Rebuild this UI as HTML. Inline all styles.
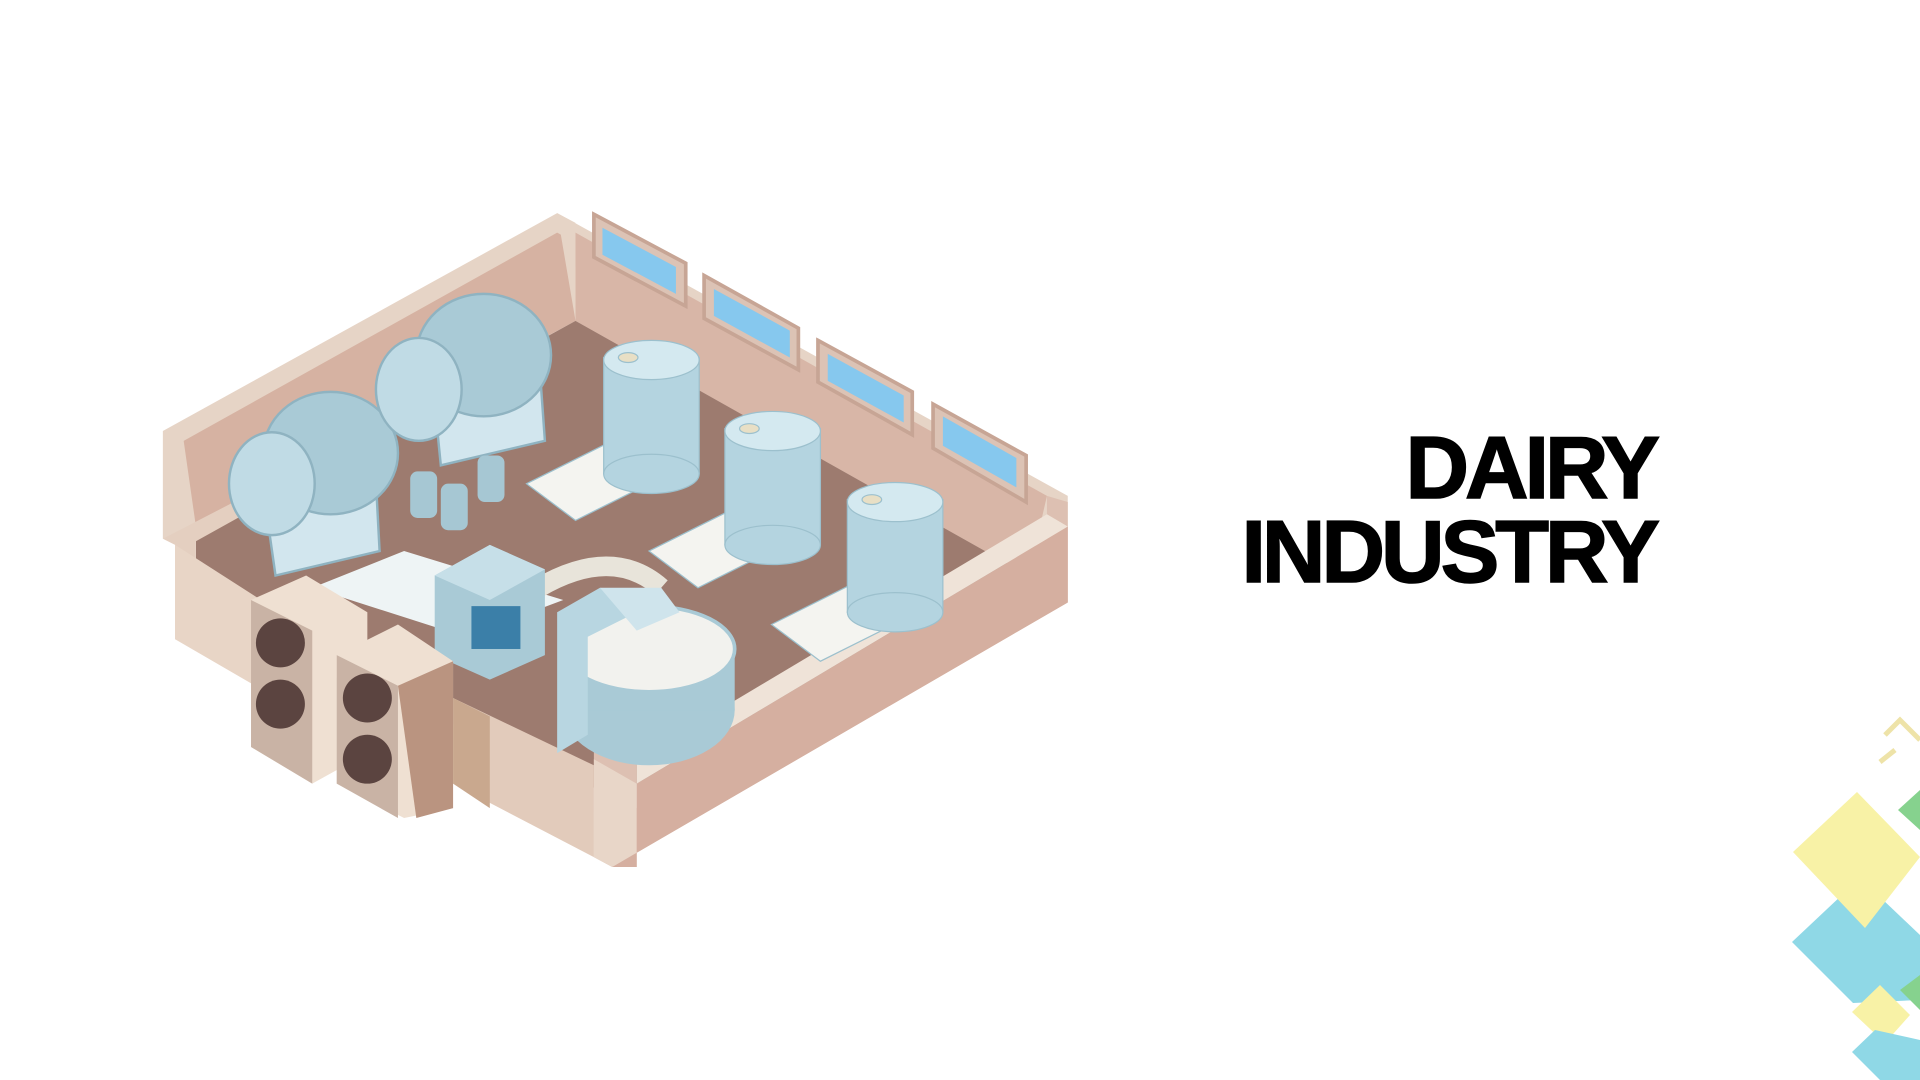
<!DOCTYPE html>
<html><head><meta charset="utf-8"><style>
html,body{margin:0;padding:0;background:#fff;width:1920px;height:1080px;overflow:hidden}
.t{position:absolute;right:264px;font-family:"Liberation Sans",sans-serif;font-weight:bold;font-size:88px;letter-spacing:-4px;color:#000;line-height:1;text-align:right;white-space:nowrap;-webkit-text-stroke:1.5px #000}
svg{position:absolute;left:0;top:0}
</style></head><body>
<svg width="1920" height="1080" viewBox="0 0 1920 1080">
<g transform="scale(1.2245)">
 <polygon points="133,352 455,174 470,182 470,262 160,430 133,440" fill="#e6d4c6"/>
 <polygon points="150,360 455,190 470,198 470,262 160,430" fill="#d6b2a2"/>
 <polygon points="455,174 872,405 872,492 820,470 470,262" fill="#e6d4c6"/>
 <polygon points="470,190 855,405 840,470 470,262" fill="#d8b6a7"/>
 <polygon points="160,432 470,262 840,470 830,485 520,640 500,650 300,560 160,470" fill="#9d7b6f"/>
 <g fill="#dcc3b5" stroke="#c7a595" stroke-width="3">
  <polygon points="485,175 560,215 560,250 485,210"/>
  <polygon points="575,225 652,268 652,302 575,260"/>
  <polygon points="668,278 745,320 745,355 668,312"/>
  <polygon points="762,330 838,372 838,410 762,366"/>
 </g>
 <g fill="#86c8ee">
  <polygon points="492,186 552,218 552,240 492,208"/>
  <polygon points="583,236 645,270 645,292 583,258"/>
  <polygon points="676,289 738,323 738,345 676,311"/>
  <polygon points="770,340 830,374 830,398 770,364"/>
 </g>
 <polygon points="133,440 220,395 232,402 160,442 160,515 143,522 143,445" fill="#e4cfc0"/>
 <polygon points="143,445 143,522 260,590 260,520" fill="#e8d5c6"/>
 <polygon points="485,610 520,622 520,660 830,485 872,492 872,410 855,405 855,470 872,492 500,708 485,700" fill="#ddc0b2"/>
 <polygon points="485,620 520,640 520,708 500,708 485,700" fill="#e8d6c8"/>
 <polygon points="520,640 872,430 872,492 500,708 520,708" fill="#d5afa0"/>
 <polygon points="520,620 855,420 872,430 520,640" fill="#efe3d8"/>
 <polygon points="370,570 485,625 485,700 370,640" fill="#e2cbbb"/>
 <polygon points="370,570 400,585 400,660 370,640" fill="#c9a88e"/>
 <g fill="#a9cad6" stroke="#8fb3c1" stroke-width="2">
  <polygon points="215,400 305,355 310,450 225,470" fill="#d2e6ee"/>
  <polygon points="355,330 440,290 445,360 360,380" fill="#d2e6ee"/>
  <ellipse cx="270" cy="370" rx="55" ry="50"/>
  <ellipse cx="222" cy="395" rx="35" ry="42" fill="#c0dbe5"/>
  <ellipse cx="395" cy="290" rx="55" ry="50"/>
  <ellipse cx="342" cy="318" rx="35" ry="42" fill="#c0dbe5"/>
 </g>
 <g fill="#a6c7d3"><rect x="335" y="385" width="22" height="38" rx="6"/><rect x="360" y="395" width="22" height="38" rx="6"/><rect x="390" y="372" width="22" height="38" rx="6"/></g>
 <g stroke="#9cc0cd" stroke-width="1">
  <polygon points="430,395 500,360 540,390 470,425" fill="#f4f4f0"/>
  <rect x="493" y="292" width="78" height="95" fill="#b4d4e0"/><ellipse cx="532" cy="387" rx="39" ry="16" fill="#b4d4e0"/><ellipse cx="532" cy="294" rx="39" ry="16" fill="#d4e9f0"/><ellipse cx="513" cy="292" rx="8" ry="4" fill="#e8dfc5"/>
  <polygon points="530,450 600,415 640,445 570,480" fill="#f4f4f0"/>
  <rect x="592" y="350" width="78" height="95" fill="#b4d4e0"/><ellipse cx="631" cy="445" rx="39" ry="16" fill="#b4d4e0"/><ellipse cx="631" cy="352" rx="39" ry="16" fill="#d4e9f0"/><ellipse cx="612" cy="350" rx="8" ry="4" fill="#e8dfc5"/>
  <polygon points="630,510 700,475 740,505 670,540" fill="#f4f4f0"/>
  <rect x="692" y="408" width="78" height="92" fill="#b4d4e0"/><ellipse cx="731" cy="500" rx="39" ry="16" fill="#b4d4e0"/><ellipse cx="731" cy="410" rx="39" ry="16" fill="#d4e9f0"/><ellipse cx="712" cy="408" rx="8" ry="4" fill="#e8dfc5"/>
 </g>
 <polygon points="255,480 330,450 460,490 380,520" fill="#eef4f5"/>
 <path d="M440,480 Q500,445 540,480" stroke="#e8e4da" stroke-width="16" fill="none"/>
 <polygon points="355,470 400,445 445,465 445,535 400,555 355,535" fill="#a9cad6"/>
 <polygon points="355,470 400,445 445,465 400,490" fill="#c6dfe8"/>
 <rect x="385" y="495" width="40" height="35" fill="#3b7fa8"/>
 <ellipse cx="530" cy="580" rx="70" ry="45" fill="#a9cad6"/>
 <rect x="460" y="530" width="140" height="50" fill="#a9cad6"/>
 <ellipse cx="530" cy="530" rx="70" ry="35" fill="#f2f2ee" stroke="#a9cad6" stroke-width="3"/>
 <polygon points="455,500 490,480 520,495 520,500 480,520 480,600 455,615" fill="#b8d6e1"/>
 <polygon points="490,480 540,480 555,500 520,515" fill="#cfe4ec"/>
 <g>
  <polygon points="205,490 250,470 300,500 300,615 255,640 205,610" fill="#efe0d2"/>
  <polygon points="205,490 255,515 255,640 205,610" fill="#c9b3a5"/>
  <circle cx="229" cy="525" r="20" fill="#5b4440"/><circle cx="229" cy="575" r="20" fill="#5b4440"/>
  <polygon points="275,535 325,510 370,540 370,660 330,668 275,640" fill="#efe0d2"/>
  <polygon points="275,535 325,560 325,668 275,640" fill="#c9b3a5"/>
  <polygon points="325,560 370,540 370,660 340,668" fill="#ba9480"/>
  <circle cx="300" cy="570" r="20" fill="#5b4440"/><circle cx="300" cy="620" r="20" fill="#5b4440"/>
 </g>
</g>
<g>
 <path d="M1885,735 L1900,720 L1920,740 M1880,762 L1895,750" stroke="#eee3a8" stroke-width="5" fill="none"/>
 <polygon points="1898,810 1920,790 1920,830" fill="#86d28e"/>
 <polygon points="1792,942 1860,878 1920,935 1920,1000 1853,1003" fill="#8fd8e6"/>
 <polygon points="1793,852 1857,792 1920,857 1865,928" fill="#f8f2a6"/>
 <polygon points="1900,990 1920,975 1920,1010" fill="#86d28e"/>
 <polygon points="1852,1012 1880,985 1910,1015 1885,1043" fill="#f8f2a6"/>
 <polygon points="1852,1052 1875,1030 1920,1040 1920,1080 1880,1080" fill="#8fd8e6"/>
</g>
</svg>
<div class="t" style="top:424px">DAIRY</div>
<div class="t" style="top:508px">INDUSTRY</div>
</body></html>
